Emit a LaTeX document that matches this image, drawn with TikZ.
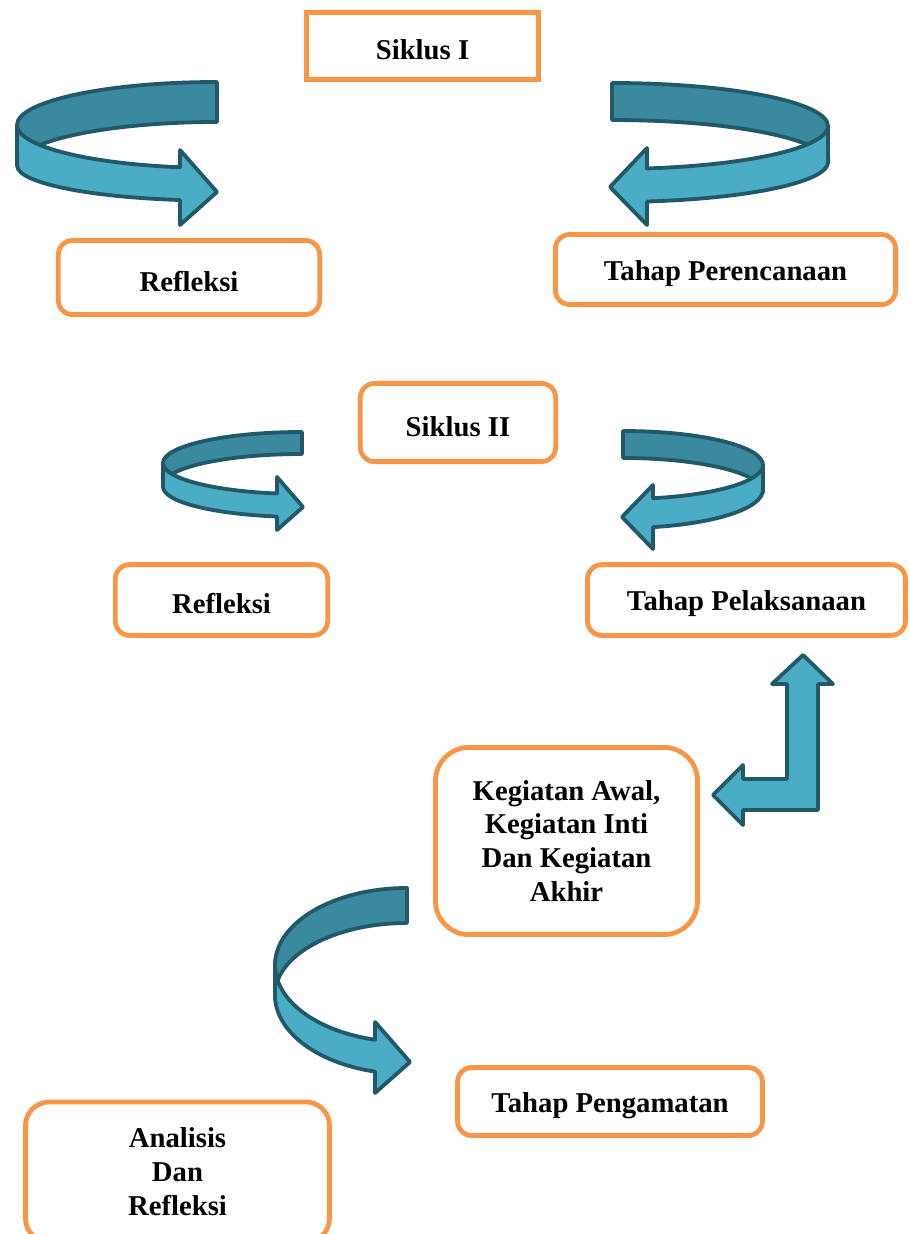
\documentclass[tikz,border=0pt]{standalone}
\usepackage{fontspec}
\setmainfont{Liberation Serif}
\usepackage{tikz}
\definecolor{boxorange}{RGB}{247,150,70}
\definecolor{arrowfront}{RGB}{75,172,198}
\definecolor{arrowback}{RGB}{59,137,159}
\definecolor{arrowline}{RGB}{33,89,104}
\usetikzlibrary{positioning}
\tikzset{%
  stage/.style={draw=boxorange, line width=2pt, rounded corners=6pt, fill=white,
    align=center, font=\fontsize{12}{14.2}\selectfont\bfseries,
    execute at begin node={\rule{0pt}{11.5pt}}},% orange stage boxes
  band/.style={draw=arrowline, line width=1.6pt, line join=round},% arrow outline
  bandback/.style={band, fill=arrowback},% back part of a turning arrow
  bandfront/.style={band, fill=arrowfront}% front part with the head
}

\begin{document}
\begin{tikzpicture}[x=0.0147cm, y=-0.0147cm]
\useasboundingbox (0,0) rectangle (910,1234);

% siklus I
\node[stage, sharp corners, minimum width=3.41cm, minimum height=0.98cm] (siklus1) at (422.5,46) {Siklus I};
\node[stage, minimum width=3.84cm, minimum height=1.09cm] (refleksi1) at (189,277.5) {Refleksi};
\node[stage, minimum width=5.00cm, minimum height=1.03cm] (perencanaan) at (725.5,269.5) {Tahap Perencanaan};

\draw[bandback] (217,82) arc (270:180:200 and 43) -- (17,165) arc (180:270:200 and 43) -- cycle;
\draw[bandfront] (17,125) arc (180:100.7:200 and 43) -- (180,150) -- (217,192) -- (180,225)
  -- (180,200) arc (100.7:180:200 and 35) -- cycle;

\draw[bandback] (612,83) arc (270:360:216 and 43) -- (828,163) arc (0:-90:216 and 43) -- cycle;
\draw[bandfront] (828,126) arc (0:80.7:216 and 43) -- (647,148) -- (610,187) -- (647,225)
  -- (647,201.5) arc (80.7:0:216 and 40) -- cycle;

% siklus II
\node[stage, minimum width=2.87cm, minimum height=1.15cm] (siklus2) at (458,422.5) {Siklus II};
\node[stage, minimum width=3.12cm, minimum height=1.04cm] (refleksi2) at (221.5,600) {Refleksi};
\node[stage, minimum width=4.67cm, minimum height=1.04cm] (pelaksanaan) at (746.5,600) {Tahap Pelaksanaan};

\draw[bandback] (302,432) arc (270:180:139 and 31) -- (163,485) arc (180:270:139 and 31) -- cycle;
\draw[bandfront] (163,463) arc (180:100.4:139 and 31) -- (277,477) -- (303,507) -- (277,530)
  -- (277,516.5) arc (100.4:180:139 and 30) -- cycle;

\draw[bandback] (623,431) arc (270:360:140 and 34) -- (763,492) arc (0:-90:140 and 34) -- cycle;
\draw[bandfront] (763,465) arc (0:77.6:140 and 34) -- (653,485) -- (622,517) -- (653,549)
  -- (653,527.1) arc (77.6:0:140 and 38) -- cycle;

% kegiatan
\node[stage, rounded corners=14pt, minimum width=3.85cm, minimum height=2.75cm] (kegiatan) at (566.5,841)
  {Kegiatan Awal,\\Kegiatan Inti\\Dan Kegiatan\\Akhir};
\draw[bandfront] (713,795) -- (743,765) -- (743,779) -- (787,779) -- (787,684) -- (772,684) -- (803,655)
  -- (833,684) -- (818,684) -- (818,810) -- (743,810) -- (743,825) -- cycle;

% pengamatan
\node[stage, minimum width=4.48cm, minimum height=1.0cm] (pengamatan) at (610,1101.5) {Tahap Pengamatan};
\node[stage, rounded corners=10pt, minimum width=4.47cm, minimum height=2.06cm] (analisis) at (177.5,1172)
  {Analisis\\Dan\\Refleksi};

\draw[bandback] (407,888) arc (270:180:132 and 77) -- (275,995) arc (180:270:132 and 72) -- cycle;
\draw[bandfront] (275,965) arc (180:104:132 and 77) -- (375,1022) -- (410,1062) -- (375,1093)
  -- (375,1071.6) arc (104:180:132 and 79) -- cycle;
\end{tikzpicture}
\end{document}
